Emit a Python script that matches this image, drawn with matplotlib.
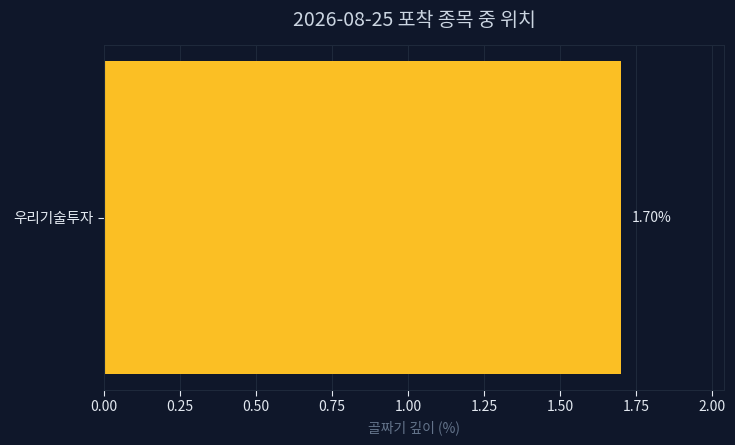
import matplotlib
matplotlib.use("Agg")
import matplotlib.pyplot as plt

categories = ["우리기술투자"]
values = [1.70]
title = "2026-08-25 포착 종목 중 위치"
xlabel = "골짜기 깊이 (%)"

plt.rcParams['font.family'] = ['Noto Sans CJK KR', 'DejaVu Sans']

BG = "#0f172a"
GRID = "#1e293b"
fig = plt.figure(figsize=(7.35, 4.45), dpi=100, facecolor=BG)
ax = fig.add_axes([104/735, 1-390/445, (724-104)/735, (390-45)/445])
ax.set_facecolor(BG)

ax.barh(categories, values, height=0.8, color="#fbbf24", zorder=2)
ax.set_xlim(0, max(values) * 1.2)
ticks = [0, 0.25, 0.5, 0.75, 1.0, 1.25, 1.5, 1.75, 2.0]
ax.set_xticks(ticks)
ax.set_xticklabels([f"{t:.2f}" for t in ticks])
ax.grid(axis='x', color=GRID, linewidth=0.8, zorder=0)
ax.set_axisbelow(True)

for i, v in enumerate(values):
    ax.annotate(f"{v:.2f}%", xy=(v, i), xytext=(8, 0), textcoords="offset points",
                va="center", ha="left", color="#e2e8f0", fontsize=10)

for s in ax.spines.values():
    s.set_color(GRID)
ax.tick_params(colors="#e2e8f0", labelsize=10, length=4)
ax.tick_params(axis='y', labelsize=10.5)
for lbl in ax.get_xticklabels() + ax.get_yticklabels():
    lbl.set_color("#e2e8f0")
ax.set_xlabel(xlabel, color="#64748b", fontsize=10, labelpad=4)
ax.set_title(title, color="#cbd5e1", fontsize=14, pad=14)

fig.savefig("out.png", dpi=100, facecolor=BG)
